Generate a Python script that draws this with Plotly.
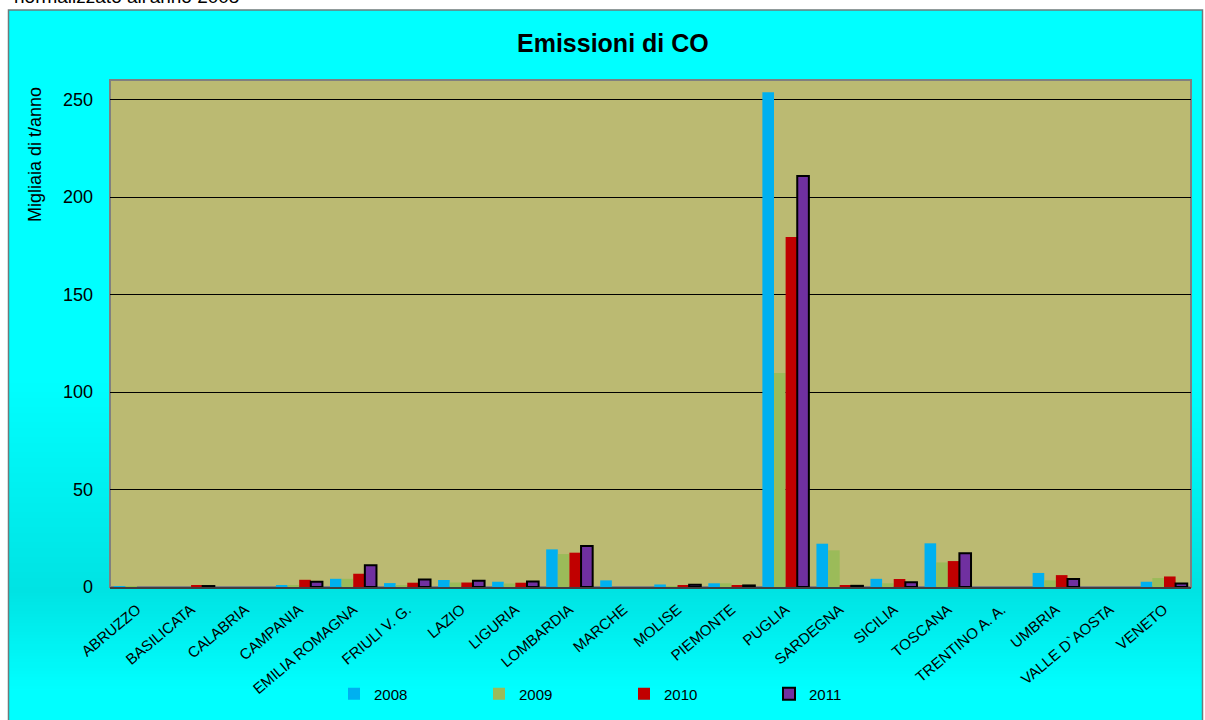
import plotly.graph_objects as go

regions = ["ABRUZZO", "BASILICATA", "CALABRIA", "CAMPANIA", "EMILIA ROMAGNA",
           "FRIULI V. G.", "LAZIO", "LIGURIA", "LOMBARDIA", "MARCHE", "MOLISE",
           "PIEMONTE", "PUGLIA", "SARDEGNA", "SICILIA", "TOSCANA", "TRENTINO A. A.",
           "UMBRIA", "VALLE D`AOSTA", "VENETO"]
v2008 = [0.5, 0, 0, 0.7, 4.2, 2.0, 3.6, 2.7, 19.3, 3.4, 1.3, 1.9, 253.7, 22.2, 4.2, 22.4, 0, 7.2, 0, 2.7]
v2009 = [0.2, 0, 0, 0.8, 4.2, 1.0, 2.3, 1.8, 16.9, 0, 0.3, 1.9, 109.8, 18.8, 1.9, 12.6, 0, 3.4, 0, 4.6]
v2010 = [0, 0.6, 0, 3.7, 6.8, 2.2, 2.3, 2.2, 17.6, 0, 1.0, 0.7, 179.5, 0.6, 4.1, 13.3, 0, 6.1, 0, 5.4]
v2011 = [None, 0.5, None, 2.7, 11.2, 3.9, 3.2, 2.8, 21.0, None, 1.2, 0.8, 210.8, 0.6, 2.4, 17.3, None, 4.1, None, 1.8]
years = ["2008", "2009", "2010", "2011"]
y_ticks = [0, 50, 100, 150, 200, 250]

W, H = 1205, 720
L, R, T, B = 110, 1191, 80, 587
FONT = "Liberation Sans, Arial, sans-serif"


def xp(px):
    return (px - L) / (R - L)


def yp(py):
    return (B - py) / (B - T)


fig = go.Figure()
colors = ["#00B0F0", "#9BBB59", "#C00000", "#7030A0"]
for name, vals, col in zip(years, [v2008, v2009, v2010, v2011], colors):
    line = dict(color="black", width=2) if name == "2011" else dict(width=0)
    fig.add_trace(go.Bar(x=regions, y=vals, name=name,
                         marker=dict(color=col, line=line)))

shapes = []


def cyan_at(py):
    if py <= 380:
        g = 255
    elif py <= 590:
        g = 255 - (py - 380) / 210 * 28
    elif py <= 690:
        g = 227 + (py - 590) / 100 * 28
    else:
        g = 255
    g = int(round(g))
    return f"rgb(0,{g},{g})"


shapes.append(dict(type="rect", xref="paper", yref="paper", layer="below",
                   x0=xp(8), x1=xp(1202), y0=yp(10), y1=yp(382),
                   fillcolor="rgb(0,255,255)", line=dict(width=0)))
step = 3
py = 380
while py < 725:
    shapes.append(dict(type="rect", xref="paper", yref="paper", layer="below",
                       x0=xp(8), x1=xp(1202), y0=yp(py), y1=yp(py + step + 1.5),
                       fillcolor=cyan_at(py + step / 2), line=dict(width=0)))
    py += step
# frame
shapes.append(dict(type="rect", xref="paper", yref="paper", layer="below",
                   x0=xp(8.5), x1=xp(1202.5), y0=yp(10), y1=yp(740),
                   fillcolor="rgba(0,0,0,0)", line=dict(color="#6e7b7b", width=1.5)))
# plot area
shapes.append(dict(type="rect", xref="paper", yref="paper", layer="below",
                   x0=0, x1=1, y0=0, y1=1,
                   fillcolor="#BBBA72", line=dict(color="#808080", width=2)))
fig.update_layout(shapes=shapes)

fig.add_annotation(text="<b>Emissioni di CO</b>", xref="paper", yref="paper",
                   x=xp(613), y=yp(43), showarrow=False,
                   font=dict(family=FONT, size=25, color="black"),
                   xanchor="center", yanchor="middle")
fig.add_annotation(text="Migliaia di t/anno", xref="paper", yref="paper",
                   x=xp(35), y=yp(155), showarrow=False, textangle=-90,
                   font=dict(family=FONT, size=18, color="black"),
                   xanchor="center", yanchor="middle")
fig.add_annotation(text="normalizzato all'anno 2008", xref="paper", yref="paper",
                   x=xp(12), y=yp(9), showarrow=False,
                   font=dict(family=FONT, size=19, color="black"),
                   xanchor="left", yanchor="bottom")

fig.update_layout(
    width=W, height=H, autosize=False,
    margin=dict(l=L, r=W - R, t=T, b=H - B, pad=0, autoexpand=False),
    paper_bgcolor="white", plot_bgcolor="rgba(0,0,0,0)",
    barmode="group", bargap=0.14, bargroupgap=0,
    font=dict(family=FONT, color="black"),
    showlegend=True,
    legend=dict(orientation="h", x=xp(334), y=yp(694), xanchor="left",
                yanchor="middle", bgcolor="rgba(0,0,0,0)",
                entrywidth=100, entrywidthmode="pixels", itemwidth=30,
                font=dict(family=FONT, size=15, color="black"),
                traceorder="normal"),
)
fig.update_xaxes(type="category", tickangle=-40, tickfont=dict(size=15),
                 showgrid=False, showline=True, linecolor="#404040", linewidth=2,
                 ticks="", ticklabelstandoff=6, range=[-0.5, 19.5], automargin=False)
fig.update_yaxes(range=[0, 260], tickvals=y_ticks, tickfont=dict(size=18),
                 showgrid=True, gridcolor="black", gridwidth=1,
                 zeroline=False, showline=False, ticks="", ticklabelstandoff=16,
                 automargin=False)

fig.write_html("out.html", config={"displayModeBar": False},
               post_script="document.body.style.margin='0';document.body.style.overflow='hidden';")
